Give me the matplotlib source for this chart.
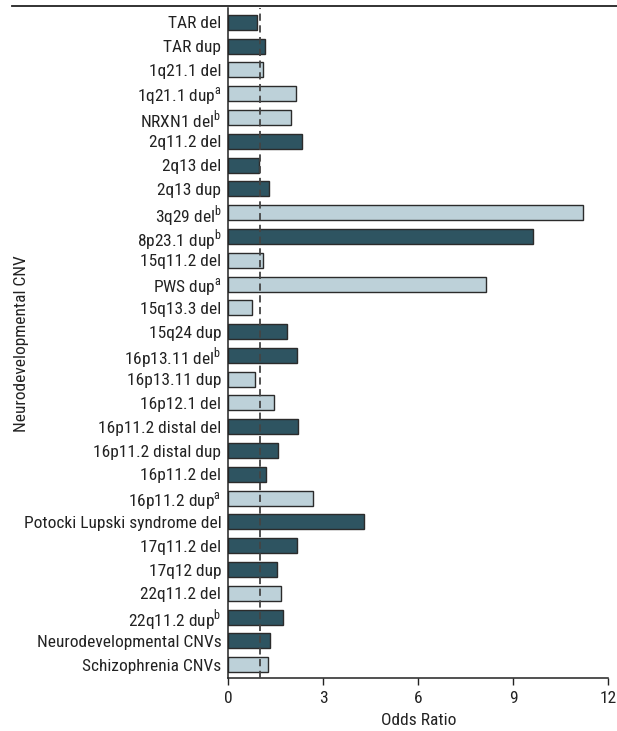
import matplotlib.pyplot as plt
from matplotlib import font_manager
from matplotlib.lines import Line2D

# data
labels = ["TAR del", "TAR dup", "1q21.1 del", "1q21.1 dup$^{\\mathrm{a}}$",
          "NRXN1 del$^{\\mathrm{b}}$", "2q11.2 del", "2q13 del", "2q13 dup",
          "3q29 del$^{\\mathrm{b}}$", "8p23.1 dup$^{\\mathrm{b}}$", "15q11.2 del",
          "PWS dup$^{\\mathrm{a}}$", "15q13.3 del", "15q24 dup",
          "16p13.11 del$^{\\mathrm{b}}$", "16p13.11 dup", "16p12.1 del",
          "16p11.2 distal del", "16p11.2 distal dup", "16p11.2 del",
          "16p11.2 dup$^{\\mathrm{a}}$", "Potocki Lupski syndrome del", "17q11.2 del",
          "17q12 dup", "22q11.2 del", "22q11.2 dup$^{\\mathrm{b}}$",
          "Neurodevelopmental CNVs", "Schizophrenia CNVs"]
odds = [0.92, 1.16, 1.11, 2.15, 1.97, 2.33, 0.96, 1.27, 11.21, 9.62, 1.11,
        8.13, 0.76, 1.86, 2.18, 0.84, 1.44, 2.21, 1.57, 1.18, 2.66, 4.29,
        2.16, 1.54, 1.67, 1.72, 1.33, 1.24]
shade = ["dark", "dark", "light", "light", "light", "dark", "dark", "dark",
         "light", "dark", "light", "light", "light", "dark", "dark", "light",
         "light", "dark", "dark", "dark", "light", "dark", "dark", "dark",
         "light", "dark", "dark", "light"]
xticks = [0, 3, 6, 9, 12]

# pick a narrow face if one is installed
have = {f.name for f in font_manager.fontManager.ttflist}
face = next(f for f in ["Liberation Sans Narrow", "Roboto Condensed",
                        "Open Sans Condensed", "Lato", "DejaVu Sans"] if f in have)
plt.rcParams['font.family'] = [face, 'DejaVu Sans']
plt.rcParams['mathtext.fontset'] = 'custom'
plt.rcParams['mathtext.rm'] = face
fs = 12.5

fill = {"dark": "#2e5461", "light": "#bdd1d9"}

fig = plt.figure(figsize=(6.17, 7.31), dpi=100)
ax = fig.add_axes([0.370, 0.072, 0.616, 0.917])

ypos = list(range(len(labels)))
ax.barh(ypos, odds, height=0.63, color=[fill[s] for s in shade],
        edgecolor="#2b2b2b", linewidth=1.0, zorder=2)
ax.axvline(1, color="#444444", linestyle=(0, (4, 2.5)), linewidth=1.3, zorder=3)

ax.set_yticks(ypos)
ax.set_yticklabels(labels, fontsize=fs, color="#222222")
ax.set_ylim(len(labels) - 1 + 0.576, -0.6)
ax.set_xlim(0, 12)
ax.set_xticks(xticks)
ax.set_xticklabels([str(t) for t in xticks], fontsize=fs, color="#222222")
ax.tick_params(axis="y", length=0, pad=5)
ax.tick_params(axis="x", length=5, width=1, color="#222222", pad=4)
for s in ["top", "right"]:
    ax.spines[s].set_visible(False)
for s in ["left", "bottom"]:
    ax.spines[s].set_color("#222222")
    ax.spines[s].set_linewidth(1.1)

ax.set_xlabel("Odds Ratio", fontsize=fs, color="#222222", labelpad=5)
ax.set_ylabel("Neurodevelopmental CNV", fontsize=fs, color="#222222")
ax.yaxis.set_label_coords(-0.525, 0.5)

# rule across the top
fig.add_artist(Line2D([12 / 617, 1], [1 - 6 / 731, 1 - 6 / 731],
                      color="#222222", linewidth=1.3))

fig.savefig("out.png", dpi=100)
